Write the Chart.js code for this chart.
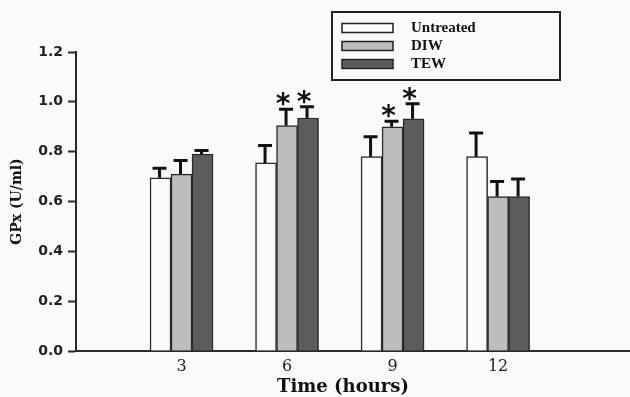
<!DOCTYPE html>
<html>
<head>
<meta charset="utf-8">
<script src="https://cdn.jsdelivr.net/npm/chart.js@4"></script>
<style>
  html, body { margin: 0; padding: 0; background: #fafafa; }
  #wrap { width: 630px; height: 397px; position: relative; }
</style>
</head>
<body>
<div id="wrap"><canvas id="c" width="630" height="397"></canvas></div>
<script>
// ---- data ----
const categories = [3, 6, 9, 12];            // time (hours)
const tickLabels = ['3', '6', '9', '12'];
const seriesNames = ['Untreated', 'DIW', 'TEW'];
const untreated    = [0.695, 0.755, 0.78, 0.78];
const untreatedErr = [0.038, 0.07, 0.08, 0.095];
const diw          = [0.71, 0.905, 0.9, 0.62];
const diwErr       = [0.055, 0.065, 0.022, 0.06];
const tew          = [0.79, 0.935, 0.932, 0.62];
const tewErr       = [0.015, 0.045, 0.06, 0.07];
const untreatedSig = [false, false, false, false];
const diwSig       = [false, true, true, false];
const tewSig       = [false, true, true, false];
const xTitle = 'Time (hours)';
const yTitle = 'GPx (U/ml)';

const fills = ['#fbfbfb', '#bdbdbd', '#5c5c5c'];
const errs = [untreatedErr, diwErr, tewErr];
const sigs = [untreatedSig, diwSig, tewSig];

const errorBarPlugin = {
  id: 'errorBars',
  afterDatasetsDraw(chart) {
    const ctx = chart.ctx;
    const y = chart.scales.y;
    ctx.save();
    chart.data.datasets.forEach((ds, di) => {
      const meta = chart.getDatasetMeta(di);
      meta.data.forEach((bar, i) => {
        const top = ds.data[i] + errs[di][i];
        const yTop = y.getPixelForValue(top);
        const x = bar.x - 1;
        ctx.strokeStyle = '#111';
        ctx.lineWidth = 3;
        ctx.beginPath();
        ctx.moveTo(x, bar.y);
        ctx.lineTo(x, yTop);
        ctx.moveTo(x - 7, yTop);
        ctx.lineTo(x + 7, yTop);
        ctx.stroke();
        if (sigs[di][i]) {
          ctx.fillStyle = '#111';
          ctx.font = 'bold 28px "DejaVu Sans"';
          ctx.textAlign = 'center';
          ctx.textBaseline = 'alphabetic';
          ctx.fillText('*', x - 3, yTop + 4);
        }
      });
    });
    ctx.restore();
  }
};

const legendPlugin = {
  id: 'boxLegend',
  afterDraw(chart) {
    const ctx = chart.ctx;
    ctx.save();
    ctx.strokeStyle = '#222';
    ctx.lineWidth = 2;
    ctx.strokeRect(332, 12, 228, 68);
    chart.data.datasets.forEach((ds, i) => {
      const cy = 28 + i * 18;
      ctx.fillStyle = ds.backgroundColor;
      ctx.fillRect(342, cy - 4.5, 51, 9);
      ctx.strokeStyle = '#222';
      ctx.lineWidth = 1.5;
      ctx.strokeRect(342, cy - 4.5, 51, 9);
      ctx.fillStyle = '#111';
      ctx.font = 'bold 15px "Liberation Serif"';
      ctx.textAlign = 'left';
      ctx.textBaseline = 'middle';
      ctx.fillText(ds.label, 411, cy);
    });
    // x axis title
    const a = chart.chartArea;
    ctx.fillStyle = '#111';
    ctx.font = 'bold 18px "DejaVu Serif"';
    ctx.textAlign = 'center';
    ctx.textBaseline = 'middle';
    ctx.fillText(xTitle, (a.left + a.right) / 2 - 10, 387);
    ctx.restore();
  }
};

new Chart(document.getElementById('c'), {
  type: 'bar',
  data: {
    labels: categories,
    datasets: [
      { label: seriesNames[0], data: untreated, backgroundColor: fills[0] },
      { label: seriesNames[1], data: diw, backgroundColor: fills[1] },
      { label: seriesNames[2], data: tew, backgroundColor: fills[2] }
    ]
  },
  options: {
    responsive: false,
    animation: false,
    devicePixelRatio: 1,
    layout: { padding: { top: 52, left: 0, right: 0, bottom: 0 } },
    datasets: { bar: { barThickness: 21, borderColor: '#2a2a2a', borderWidth: 1.5 } },
    plugins: { legend: { display: false }, tooltip: { enabled: false } },
    scales: {
      x: {
        type: 'linear',
        min: 0,
        max: 15.75,
        offset: false,
        afterBuildTicks: (s) => { s.ticks = categories.map(v => ({ value: v })); },
        afterFit: (s) => { s.height = 46; },
        grid: { drawOnChartArea: false, drawTicks: false },
        border: { display: true, color: '#2a2a2a', width: 2 },
        ticks: {
          padding: 6,
          color: '#222',
          font: { family: 'DejaVu Serif', size: 16 },
          callback: (v) => tickLabels[categories.indexOf(v)] ?? ''
        }
      },
      y: {
        min: 0,
        max: 1.2,
        afterFit: (s) => { s.width = 76; },
        grid: { drawOnChartArea: false, tickLength: 8, tickColor: '#2a2a2a', tickWidth: 2 },
        border: { display: true, color: '#2a2a2a', width: 2 },
        ticks: {
          stepSize: 0.2,
          padding: 5,
          color: '#222',
          font: { family: 'DejaVu Sans', size: 14, weight: 'bold' },
          callback: (v) => Number(v).toFixed(1)
        },
        title: {
          display: true,
          text: yTitle,
          color: '#111',
          padding: { top: 9, bottom: 0 },
          font: { family: 'DejaVu Serif', size: 14, weight: 'bold' }
        }
      }
    }
  },
  plugins: [errorBarPlugin, legendPlugin]
});
</script>
</body>
</html>
